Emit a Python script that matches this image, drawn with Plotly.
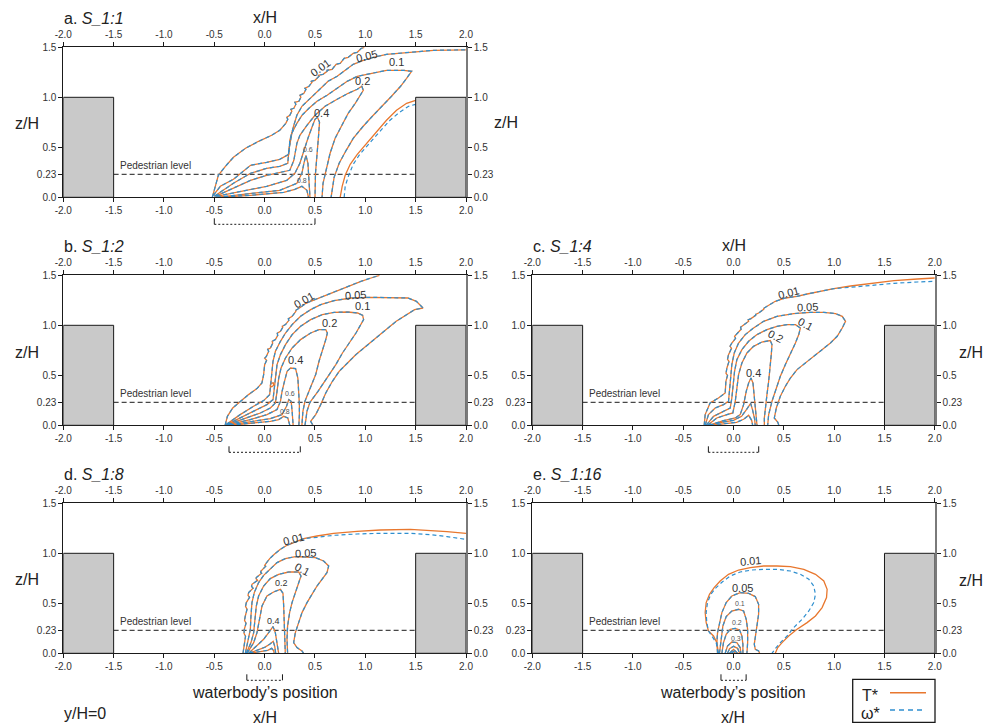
import plotly.graph_objects as go

# ---------------- data ----------------
X_TICKS = [-2.0, -1.5, -1.0, -0.5, 0.0, 0.5, 1.0, 1.5, 2.0]
X_TICK_TEXT = ["-2.0", "-1.5", "-1.0", "-0.5", "0.0", "0.5", "1.0", "1.5", "2.0"]
Z_TICKS = [0.0, 0.23, 0.5, 1.0, 1.5]
Z_TICK_TEXT = ["0.0", "0.23", "0.5", "1.0", "1.5"]
X_RANGE = [-2.0, 2.0]
Z_RANGE = [0.0, 1.5]

PANEL_LETTERS = ["a", "b", "c", "d", "e"]
PANEL_CASES = ["S_1:1", "S_1:2", "S_1:4", "S_1:8", "S_1:16"]
WATERBODY_HALF_WIDTH = [0.5, 0.354, 0.25, 0.177, 0.125]
PEDESTRIAN_LEVEL = 0.23
BUILDING_HEIGHT = 1.0
BUILDING_SPANS = [(-2.0, -1.5), (1.5, 2.0)]

# ---- panel a (S_1:1) contour lines, (x/H, z/H) ----
A_001 = [(-0.52, 0), (-0.50, 0.07), (-0.46, 0.22), (-0.39, 0.31), (-0.31, 0.40), (-0.19, 0.49), (-0.06, 0.56),
         (0.07, 0.62), (0.15, 0.67), (0.21, 0.74), (0.23, 0.78), (0.22, 0.80), (0.25, 0.82), (0.27, 0.86),
         (0.26, 0.88), (0.29, 0.89), (0.31, 0.93), (0.30, 0.95), (0.34, 0.96), (0.36, 1.00), (0.35, 1.02),
         (0.39, 1.04), (0.41, 1.08), (0.40, 1.09), (0.44, 1.11), (0.47, 1.15), (0.46, 1.16), (0.50, 1.17),
         (0.54, 1.21), (0.53, 1.22), (0.58, 1.23), (0.62, 1.26), (0.62, 1.27), (0.67, 1.28), (0.71, 1.32),
         (0.71, 1.33), (0.75, 1.34), (0.79, 1.38), (0.79, 1.39), (0.83, 1.40), (0.87, 1.43), (0.88, 1.44),
         (0.92, 1.45), (0.95, 1.48), (0.96, 1.49), (0.99, 1.50)]
A_005 = [(-0.51, 0.02), (-0.44, 0.11), (-0.31, 0.18), (-0.14, 0.32), (0.02, 0.35), (0.15, 0.38), (0.24, 0.43),
         (0.25, 0.57), (0.29, 0.72), (0.32, 0.82), (0.37, 0.91), (0.43, 0.97), (0.49, 1.03), (0.55, 1.09),
         (0.63, 1.16), (0.72, 1.21), (0.80, 1.27), (0.88, 1.33), (0.98, 1.37), (1.08, 1.40), (1.21, 1.43),
         (1.41, 1.45), (1.68, 1.47), (2.0, 1.475)]
A_01 = [(-0.50, 0.01), (-0.31, 0.14), (-0.14, 0.24), (0.02, 0.29), (0.15, 0.31), (0.23, 0.34), (0.24, 0.47),
        (0.27, 0.64), (0.32, 0.74), (0.37, 0.82), (0.44, 0.89), (0.52, 0.96), (0.62, 1.02), (0.72, 1.09),
        (0.82, 1.16), (0.92, 1.21), (1.05, 1.24), (1.21, 1.27), (1.38, 1.27), (1.46, 1.26), (1.41, 1.19),
        (1.35, 1.11), (1.26, 1.01), (1.16, 0.91), (1.06, 0.80), (0.97, 0.70), (0.88, 0.59), (0.81, 0.47),
        (0.74, 0.34), (0.69, 0.20), (0.66, 0.0)]
A_02 = [(-0.49, 0.01), (-0.31, 0.09), (-0.14, 0.17), (0.02, 0.22), (0.17, 0.25), (0.25, 0.27), (0.29, 0.37),
        (0.32, 0.54), (0.35, 0.62), (0.42, 0.72), (0.50, 0.82), (0.60, 0.91), (0.72, 0.98), (0.83, 1.04),
        (0.92, 1.08), (0.965, 1.11), (0.98, 1.07), (0.95, 1.02), (0.90, 0.94), (0.83, 0.84), (0.77, 0.72),
        (0.70, 0.59), (0.65, 0.44), (0.61, 0.27), (0.58, 0.14), (0.57, 0.0)]
A_04 = [(-0.48, 0.01), (-0.24, 0.06), (0.02, 0.11), (0.22, 0.17), (0.30, 0.24), (0.35, 0.34), (0.39, 0.47),
        (0.43, 0.59), (0.47, 0.70), (0.50, 0.78), (0.525, 0.80), (0.545, 0.75), (0.535, 0.61), (0.52, 0.44),
        (0.505, 0.24), (0.50, 0.0)]
A_06 = [(-0.475, 0.0), (-0.14, 0.04), (0.15, 0.07), (0.32, 0.14), (0.37, 0.24), (0.39, 0.34), (0.41, 0.42),
        (0.43, 0.34), (0.44, 0.21), (0.45, 0.0)]
A_08 = [(-0.47, 0.0), (-0.14, 0.02), (0.19, 0.05), (0.30, 0.08), (0.37, 0.11), (0.42, 0.07), (0.435, 0.0)]
A_EDGE_T = [(0.75, 0.0), (0.77, 0.11), (0.80, 0.22), (0.85, 0.33), (0.92, 0.43), (1.02, 0.55), (1.11, 0.66),
            (1.21, 0.77), (1.31, 0.87), (1.41, 0.94), (1.50, 0.97)]
A_EDGE_W = [(0.79, 0.0), (0.80, 0.11), (0.835, 0.22), (0.88, 0.33), (0.945, 0.43), (1.045, 0.55), (1.145, 0.66),
            (1.245, 0.77), (1.34, 0.85), (1.43, 0.91), (1.50, 0.93)]

# ---- panel b (S_1:2) ----
B_001 = [(-0.393, 0), (-0.37, 0.09), (-0.317, 0.173), (-0.243, 0.24), (-0.16, 0.307), (-0.077, 0.367),
         (-0.027, 0.423), (-0.01, 0.507), (0.0, 0.607), (0.02, 0.65), (0.0, 0.67), (0.017, 0.69),
         (0.04, 0.74), (0.03, 0.76), (0.057, 0.773), (0.08, 0.82), (0.075, 0.84), (0.107, 0.857),
         (0.13, 0.90), (0.125, 0.92), (0.157, 0.94), (0.18, 0.98), (0.175, 0.99), (0.207, 1.007),
         (0.24, 1.05), (0.235, 1.065), (0.273, 1.09), (0.31, 1.14), (0.31, 1.15), (0.357, 1.18),
         (0.40, 1.21), (0.41, 1.22), (0.457, 1.24), (0.557, 1.28), (0.657, 1.323), (0.757, 1.367),
         (0.857, 1.407), (0.957, 1.44), (1.057, 1.473), (1.14, 1.5)]
B_005 = [(-0.383, 0.007), (-0.243, 0.107), (-0.11, 0.19), (-0.01, 0.247), (0.05, 0.307), (0.063, 0.407),
         (0.073, 0.54), (0.083, 0.64), (0.107, 0.74), (0.157, 0.84), (0.207, 0.923), (0.273, 1.007),
         (0.357, 1.09), (0.457, 1.157), (0.557, 1.207), (0.69, 1.247), (0.857, 1.273), (1.057, 1.28),
         (1.257, 1.28), (1.423, 1.273), (1.507, 1.24), (1.573, 1.173), (1.49, 1.157), (1.407, 1.107),
         (1.307, 1.04), (1.207, 0.957), (1.107, 0.873), (1.007, 0.79), (0.907, 0.707), (0.823, 0.623),
         (0.74, 0.54), (0.673, 0.44), (0.607, 0.323), (0.557, 0.207), (0.507, 0.107), (0.457, 0.04),
         (0.47, 0.02), (0.48, 0.0)]
B_01 = [(-0.377, 0.007), (-0.21, 0.09), (-0.077, 0.157), (0.023, 0.207), (0.083, 0.257), (0.097, 0.373),
        (0.107, 0.507), (0.123, 0.607), (0.157, 0.707), (0.207, 0.807), (0.273, 0.907), (0.357, 0.99),
        (0.457, 1.057), (0.573, 1.107), (0.69, 1.13), (0.823, 1.133), (0.923, 1.123), (0.973, 1.10),
        (0.983, 1.057), (0.957, 1.007), (0.907, 0.923), (0.84, 0.823), (0.773, 0.723), (0.707, 0.607),
        (0.62, 0.47), (0.53, 0.34), (0.45, 0.23), (0.42, 0.14), (0.41, 0.06), (0.40, 0.0)]
B_02 = [(-0.37, 0.007), (-0.177, 0.073), (-0.043, 0.123), (0.057, 0.173), (0.107, 0.223), (0.123, 0.34),
        (0.14, 0.473), (0.163, 0.573), (0.207, 0.673), (0.273, 0.773), (0.357, 0.857), (0.457, 0.923),
        (0.54, 0.957), (0.607, 0.957), (0.623, 0.923), (0.607, 0.857), (0.573, 0.757), (0.54, 0.64),
        (0.507, 0.507), (0.45, 0.373), (0.40, 0.24), (0.38, 0.14), (0.375, 0.07), (0.37, 0.0)]
B_04 = [(-0.36, 0.007), (-0.143, 0.057), (0.023, 0.107), (0.123, 0.157), (0.157, 0.24), (0.173, 0.34),
        (0.197, 0.44), (0.223, 0.54), (0.257, 0.573), (0.307, 0.567), (0.33, 0.473), (0.34, 0.34),
        (0.345, 0.207), (0.345, 0.107), (0.34, 0.0)]
B_06 = [(-0.35, 0.003), (-0.11, 0.04), (0.057, 0.067), (0.173, 0.107), (0.217, 0.19), (0.24, 0.257),
        (0.263, 0.24), (0.273, 0.14), (0.283, 0.0)]
B_08 = [(-0.343, 0.0), (-0.11, 0.02), (0.057, 0.04), (0.14, 0.057), (0.19, 0.09), (0.23, 0.073), (0.25, 0.0)]
B_LOOP_T = [(0.055, 0.39), (0.06, 0.42), (0.085, 0.425), (0.09, 0.40), (0.07, 0.385), (0.055, 0.39)]

# ---- panel c (S_1:4) ----
C_001_T = [(-0.292, 0), (-0.282, 0.107), (-0.233, 0.223), (-0.15, 0.273), (-0.083, 0.323), (-0.076, 0.44),
           (-0.06, 0.50), (-0.075, 0.52), (-0.066, 0.573), (-0.045, 0.64), (-0.06, 0.66), (-0.05, 0.707),
           (-0.02, 0.77), (-0.035, 0.79), (-0.017, 0.823), (0.02, 0.87), (0.01, 0.89), (0.033, 0.913),
           (0.075, 0.96), (0.07, 0.98), (0.10, 1.0), (0.15, 1.04), (0.145, 1.055), (0.173, 1.067),
           (0.22, 1.10), (0.22, 1.11), (0.249, 1.123), (0.30, 1.16), (0.30, 1.17), (0.332, 1.19),
           (0.38, 1.22), (0.385, 1.23), (0.415, 1.24), (0.515, 1.273), (0.631, 1.29), (0.731, 1.313),
           (0.864, 1.34), (0.997, 1.367), (1.163, 1.393), (1.362, 1.42), (1.595, 1.447), (1.827, 1.463), (2.0, 1.473)]
C_001_W = C_001_T[:38] + [(1.163, 1.38), (1.362, 1.40), (1.595, 1.42), (1.827, 1.433), (2.0, 1.44)]
C_005 = [(-0.282, 0), (-0.249, 0.107), (-0.183, 0.173), (-0.10, 0.207), (-0.05, 0.24), (-0.04, 0.34),
         (-0.033, 0.473), (-0.017, 0.607), (0.007, 0.723), (0.05, 0.823), (0.116, 0.907), (0.199, 0.973),
         (0.299, 1.04), (0.432, 1.09), (0.598, 1.117), (0.764, 1.13), (0.897, 1.13), (1.013, 1.117),
         (1.08, 1.09), (1.113, 1.04), (1.08, 0.973), (1.03, 0.89), (0.963, 0.823), (0.88, 0.757),
         (0.797, 0.69), (0.714, 0.623), (0.631, 0.557), (0.565, 0.473), (0.515, 0.39), (0.465, 0.29),
         (0.425, 0.173), (0.405, 0.073), (0.44, 0.03), (0.45, 0.0)]
C_01 = [(-0.272, 0), (-0.199, 0.09), (-0.10, 0.14), (-0.033, 0.173), (-0.017, 0.273), (-0.007, 0.407),
        (0.01, 0.54), (0.033, 0.657), (0.083, 0.757), (0.15, 0.84), (0.233, 0.907), (0.332, 0.957),
        (0.432, 0.99), (0.532, 1.007), (0.615, 1.007), (0.664, 0.973), (0.648, 0.907), (0.615, 0.823),
        (0.565, 0.723), (0.515, 0.607), (0.465, 0.49), (0.425, 0.373), (0.382, 0.24), (0.349, 0.107), (0.339, 0)]
C_02 = [(-0.259, 0), (-0.166, 0.073), (-0.066, 0.107), (-0.007, 0.123), (0.017, 0.24), (0.033, 0.373),
        (0.05, 0.507), (0.083, 0.623), (0.133, 0.723), (0.199, 0.79), (0.282, 0.833), (0.365, 0.847),
        (0.382, 0.807), (0.375, 0.707), (0.365, 0.573), (0.349, 0.44), (0.332, 0.307), (0.316, 0.173),
        (0.306, 0.073), (0.306, 0)]
C_04 = [(-0.249, 0), (-0.10, 0.047), (0.017, 0.073), (0.066, 0.107), (0.10, 0.207), (0.126, 0.34),
        (0.15, 0.423), (0.173, 0.473), (0.193, 0.423), (0.206, 0.307), (0.219, 0.173), (0.233, 0)]
C_06 = [(-0.24, 0.0), (-0.12, 0.03), (0.0, 0.05), (0.08, 0.09), (0.13, 0.16), (0.17, 0.22), (0.19, 0.15),
        (0.21, 0.06), (0.215, 0.0)]
C_08 = [(-0.23, 0.0), (-0.1, 0.015), (0.03, 0.03), (0.1, 0.06), (0.15, 0.1), (0.18, 0.05), (0.19, 0.0)]

# ---- panel d (S_1:8) ----
D_001_T = [(-0.215, 0), (-0.202, 0.107), (-0.19, 0.17), (-0.205, 0.20), (-0.202, 0.24), (-0.185, 0.30),
           (-0.20, 0.33), (-0.192, 0.373), (-0.175, 0.44), (-0.19, 0.47), (-0.182, 0.507), (-0.15, 0.56),
           (-0.165, 0.58), (-0.159, 0.607), (-0.115, 0.65), (-0.13, 0.67), (-0.126, 0.69), (-0.07, 0.73),
           (-0.085, 0.745), (-0.083, 0.757), (-0.03, 0.80), (-0.04, 0.81), (-0.036, 0.823), (0.01, 0.87),
           (0.0, 0.88), (0.007, 0.89), (0.05, 0.947), (0.096, 0.99), (0.156, 1.04), (0.222, 1.08),
           (0.305, 1.113), (0.387, 1.147), (0.52, 1.173), (0.685, 1.20), (0.917, 1.22), (1.149, 1.233),
           (1.447, 1.24), (1.646, 1.23), (1.811, 1.217), (2.0, 1.20)]
D_001_W = D_001_T[:32] + [(0.52, 1.16), (0.685, 1.18), (0.917, 1.193), (1.149, 1.20), (1.447, 1.20),
                          (1.646, 1.187), (1.811, 1.167), (2.0, 1.14)]
D_005 = [(-0.192, 0), (-0.159, 0.14), (-0.142, 0.24), (-0.136, 0.373), (-0.126, 0.507), (-0.103, 0.607),
         (-0.06, 0.707), (-0.01, 0.78), (0.056, 0.847), (0.123, 0.907), (0.205, 0.947), (0.305, 0.967),
         (0.404, 0.963), (0.503, 0.957), (0.586, 0.923), (0.636, 0.873), (0.619, 0.807), (0.57, 0.74),
         (0.52, 0.673), (0.47, 0.59), (0.421, 0.507), (0.371, 0.407), (0.338, 0.307), (0.305, 0.207),
         (0.288, 0.107), (0.321, 0.057), (0.371, 0.023), (0.387, 0)]
D_01 = [(-0.182, 0), (-0.136, 0.107), (-0.109, 0.207), (-0.093, 0.34), (-0.083, 0.473), (-0.06, 0.573),
        (-0.01, 0.673), (0.056, 0.747), (0.139, 0.79), (0.238, 0.813), (0.338, 0.813), (0.361, 0.773),
        (0.338, 0.707), (0.305, 0.607), (0.272, 0.507), (0.248, 0.407), (0.228, 0.273), (0.222, 0.14), (0.228, 0)]
D_02 = [(-0.175, 0), (-0.109, 0.107), (-0.076, 0.207), (-0.05, 0.34), (-0.026, 0.473), (0.023, 0.573),
        (0.089, 0.613), (0.156, 0.64), (0.182, 0.60), (0.189, 0.473), (0.195, 0.34), (0.199, 0.207), (0.205, 0)]
D_04 = [(-0.159, 0), (-0.076, 0.073), (-0.01, 0.14), (0.04, 0.207), (0.083, 0.267), (0.106, 0.207),
        (0.123, 0.107), (0.139, 0)]
D_06 = [(-0.155, 0.0), (-0.08, 0.03), (0.0, 0.06), (0.05, 0.09), (0.085, 0.12), (0.10, 0.07), (0.11, 0.0)]
D_08 = [(-0.15, 0.0), (-0.05, 0.015), (0.03, 0.03), (0.07, 0.05), (0.09, 0.025), (0.095, 0.0)]

# ---- panel e (S_1:16) ----
E_001_T = [(-0.15, 0), (-0.166, 0.107), (-0.199, 0.173), (-0.249, 0.223), (-0.272, 0.307), (-0.282, 0.407),
           (-0.272, 0.507), (-0.239, 0.59), (-0.193, 0.657), (-0.133, 0.723), (-0.05, 0.79), (0.05, 0.833),
           (0.166, 0.857), (0.299, 0.873), (0.432, 0.873), (0.565, 0.867), (0.698, 0.84), (0.814, 0.79),
           (0.897, 0.723), (0.93, 0.64), (0.924, 0.557), (0.88, 0.457), (0.814, 0.373), (0.731, 0.307),
           (0.631, 0.24), (0.548, 0.173), (0.482, 0.107), (0.439, 0.057), (0.415, 0)]
E_001_W = [(-0.15, 0), (-0.173, 0.107), (-0.216, 0.173), (-0.249, 0.223), (-0.266, 0.307), (-0.272, 0.407),
           (-0.259, 0.507), (-0.226, 0.59), (-0.173, 0.657), (-0.113, 0.713), (-0.033, 0.773), (0.066, 0.813),
           (0.183, 0.833), (0.299, 0.84), (0.432, 0.84), (0.565, 0.823), (0.664, 0.79), (0.748, 0.74),
           (0.797, 0.673), (0.814, 0.59), (0.797, 0.507), (0.748, 0.423), (0.681, 0.34), (0.598, 0.257),
           (0.532, 0.173), (0.465, 0.107), (0.415, 0.047), (0.382, 0)]
E_005 = [(-0.159, 0), (-0.166, 0.107), (-0.159, 0.207), (-0.14, 0.307), (-0.116, 0.407), (-0.073, 0.507),
         (-0.017, 0.573), (0.066, 0.607), (0.15, 0.60), (0.216, 0.567), (0.249, 0.49), (0.249, 0.39),
         (0.233, 0.29), (0.216, 0.19), (0.206, 0.09), (0.216, 0.04), (0.249, 0.023), (0.259, 0)]
E_01 = [(-0.14, 0), (-0.126, 0.14), (-0.106, 0.273), (-0.073, 0.367), (-0.017, 0.423), (0.05, 0.44),
        (0.10, 0.423), (0.126, 0.34), (0.14, 0.24), (0.14, 0.107), (0.133, 0)]
E_02 = [(-0.116, 0), (-0.10, 0.107), (-0.073, 0.19), (-0.033, 0.24), (0.017, 0.25), (0.06, 0.233),
        (0.083, 0.173), (0.093, 0.09), (0.093, 0)]
E_03 = [(-0.083, 0), (-0.06, 0.073), (-0.017, 0.113), (0.033, 0.107), (0.066, 0.057), (0.073, 0)]
E_04 = [(-0.06, 0), (-0.04, 0.045), (0.0, 0.07), (0.04, 0.05), (0.06, 0)]
E_05 = [(-0.04, 0), (0.0, 0.04), (0.04, 0)]
E_06 = [(-0.02, 0), (0.0, 0.02), (0.02, 0)]

# contour-level labels per panel: text, x/H, z/H
A_LABEL_TEXT = ["0.01", "0.05", "0.1", "0.2", "0.4", "0.6", "0.8"]
A_LABEL_X = [0.55, 1.015, 1.313, 0.972, 0.568, 0.435, 0.369]
A_LABEL_Z = [1.29, 1.413, 1.357, 1.167, 0.847, 0.48, 0.167]
B_LABEL_TEXT = ["0.01", "0.05", "0.1", "0.2", "0.4", "0.6", "0.8"]
B_LABEL_X = [0.39, 0.907, 0.973, 0.64, 0.307, 0.247, 0.207]
B_LABEL_Z = [1.257, 1.307, 1.19, 1.023, 0.657, 0.323, 0.14]
C_LABEL_TEXT = ["0.01", "0.05", "0.1", "0.2", "0.4"]
C_LABEL_X = [0.542, 0.731, 0.714, 0.415, 0.2]
C_LABEL_Z = [1.323, 1.18, 1.013, 0.89, 0.523]
D_LABEL_TEXT = ["0.01", "0.05", "0.1", "0.2", "0.4"]
D_LABEL_X = [0.288, 0.404, 0.371, 0.172, 0.083]
D_LABEL_Z = [1.14, 1.007, 0.847, 0.70, 0.323]
E_LABEL_TEXT = ["0.01", "0.05", "0.1", "0.2", "0.3"]
E_LABEL_X = [0.166, 0.093, 0.066, 0.033, 0.027]
E_LABEL_Z = [0.923, 0.657, 0.50, 0.307, 0.147]

# ---------------- styling / layout ----------------
FONT = "Liberation Sans, Arial, Helvetica, sans-serif"
ORANGE = "#e8772e"
BLUE = "#2f8fcf"
TXT = "#222222"

# the page body adds an 8px margin; the figure is sized so it fits the 993x728 window
PAGE_OFF = 8
FW, FH = 993 - PAGE_OFF, 728 - PAGE_OFF


def fx(px):
    return (px - PAGE_OFF) / FW


def fy(py):
    return 1 - (py - PAGE_OFF) / FH


LEFT_DOM = [fx(63.3), fx(466.0)]
RIGHT_DOM = [fx(532.3), fx(934.8)]
ROW_TOP_PX = [47.3, 275.3, 503.3]
ROW_BOT_PX = [197.3, 425.3, 653.3]
ROW_DOM = [[fy(b), fy(t)] for t, b in zip(ROW_TOP_PX, ROW_BOT_PX)]
PANEL_POS = [(LEFT_DOM, 0), (LEFT_DOM, 1), (RIGHT_DOM, 1), (LEFT_DOM, 2), (RIGHT_DOM, 2)]
PANEL_LEFT_PX = [62, 62, 531, 62, 531]

LABEL_STYLE = {  # (angle, size) per label
    "a": [(-36, 11), (-14, 11), (0, 11), (0, 11), (0, 11), (0, 7), (0, 7)],
    "b": [(-30, 11), (-4, 11), (0, 11), (0, 11), (0, 11), (0, 7), (0, 7)],
    "c": [(-14, 11), (-3, 11), (28, 11), (28, 11), (0, 11)],
    "d": [(-14, 11), (-3, 11), (28, 11), (0, 9), (0, 9)],
    "e": [(-5, 11), (0, 11), (0, 7), (0, 7), (0, 7)],
}

panels = [
    dict(T=[A_001, A_005, A_01, A_02, A_04, A_06, A_08, A_EDGE_T],
         W=[A_001, A_005, A_01, A_02, A_04, A_06, A_08, A_EDGE_W],
         labels=(A_LABEL_TEXT, A_LABEL_X, A_LABEL_Z)),
    dict(T=[B_001, B_005, B_01, B_02, B_04, B_06, B_08, B_LOOP_T],
         W=[B_001, B_005, B_01, B_02, B_04, B_06, B_08],
         labels=(B_LABEL_TEXT, B_LABEL_X, B_LABEL_Z)),
    dict(T=[C_001_T, C_005, C_01, C_02, C_04, C_06, C_08],
         W=[C_001_W, C_005, C_01, C_02, C_04, C_06, C_08],
         labels=(C_LABEL_TEXT, C_LABEL_X, C_LABEL_Z)),
    dict(T=[D_001_T, D_005, D_01, D_02, D_04, D_06, D_08],
         W=[D_001_W, D_005, D_01, D_02, D_04, D_06, D_08],
         labels=(D_LABEL_TEXT, D_LABEL_X, D_LABEL_Z)),
    dict(T=[E_001_T, E_005, E_01, E_02, E_03, E_04, E_05, E_06],
         W=[E_001_W, E_005, E_01, E_02, E_03, E_04, E_05, E_06],
         labels=(E_LABEL_TEXT, E_LABEL_X, E_LABEL_Z)),
]

fig = go.Figure()
shapes = []
annotations = []
layout_axes = {}

tickfont = dict(family=FONT, size=10, color="#333333")
ax_common = dict(showgrid=False, zeroline=False, showline=True, linecolor="#1a1a1a", linewidth=1,
                 ticks="outside", ticklen=4, tickwidth=1, tickcolor="#1a1a1a", tickfont=tickfont,
                 fixedrange=True, automargin=False)

for i, p in enumerate(panels):
    n = i + 1
    xr = "x" if n == 1 else f"x{n}"
    yr = "y" if n == 1 else f"y{n}"
    xr2, yr2 = f"x{n + 5}", f"y{n + 5}"
    xdom, row = PANEL_POS[i]
    ydom = ROW_DOM[row]

    # axes
    layout_axes["xaxis" if n == 1 else f"xaxis{n}"] = dict(
        ax_common, domain=xdom, anchor=yr, range=X_RANGE, tickvals=X_TICKS, ticktext=X_TICK_TEXT, side="bottom")
    layout_axes["yaxis" if n == 1 else f"yaxis{n}"] = dict(
        ax_common, domain=ydom, anchor=xr, range=Z_RANGE, tickvals=Z_TICKS, ticktext=Z_TICK_TEXT, side="left")
    layout_axes[f"xaxis{n + 5}"] = dict(
        ax_common, domain=xdom, anchor=yr2, overlaying=xr, range=X_RANGE, tickvals=X_TICKS,
        ticktext=X_TICK_TEXT, side="top")
    layout_axes[f"yaxis{n + 5}"] = dict(
        ax_common, domain=ydom, anchor=xr2, overlaying=yr, range=Z_RANGE, tickvals=Z_TICKS,
        ticktext=Z_TICK_TEXT, side="right", linecolor="#7a7a7a", linewidth=1.6)

    # buildings
    for (b0, b1) in BUILDING_SPANS:
        shapes.append(dict(type="rect", xref=xr, yref=yr, x0=b0, x1=b1, y0=0, y1=BUILDING_HEIGHT,
                           fillcolor="#c9c9c9", line=dict(color="#1a1a1a", width=1), layer="above"))

    # pedestrian level
    fig.add_trace(go.Scatter(x=[BUILDING_SPANS[0][1], BUILDING_SPANS[1][0]],
                             y=[PEDESTRIAN_LEVEL, PEDESTRIAN_LEVEL], mode="lines",
                             line=dict(color="#1a1a1a", width=1, dash="5px,3px"),
                             xaxis=xr, yaxis=yr, showlegend=False, hoverinfo="skip"))
    annotations.append(dict(text="Pedestrian level", x=BUILDING_SPANS[0][1] + 0.04, y=PEDESTRIAN_LEVEL,
                            xref=xr, yref=yr, xanchor="left", yanchor="bottom", yshift=1, showarrow=False,
                            font=dict(family=FONT, size=10, color="#333333")))

    # contours: T* solid orange, omega* dashed blue
    for pts in p["T"]:
        fig.add_trace(go.Scatter(x=[q[0] for q in pts], y=[q[1] for q in pts], mode="lines",
                                 line=dict(color=ORANGE, width=1.3), xaxis=xr, yaxis=yr,
                                 showlegend=False, hoverinfo="skip"))
    for pts in p["W"]:
        fig.add_trace(go.Scatter(x=[q[0] for q in pts], y=[q[1] for q in pts], mode="lines",
                                 line=dict(color=BLUE, width=1.2, dash="4px,3px"), xaxis=xr, yaxis=yr,
                                 showlegend=False, hoverinfo="skip"))

    # contour labels
    ltxt, lx, lz = p["labels"]
    for k, (t, xx, zz) in enumerate(zip(ltxt, lx, lz)):
        ang, sz = LABEL_STYLE[PANEL_LETTERS[i]][k]
        annotations.append(dict(text=t, x=xx, y=zz, xref=xr, yref=yr, showarrow=False, textangle=ang,
                                font=dict(family=FONT, size=sz, color="#333333" if sz > 8 else "#555555")))

    # dummy trace to activate top/right axes
    fig.add_trace(go.Scatter(x=[None], y=[None], xaxis=xr2, yaxis=yr2, showlegend=False, hoverinfo="skip"))

    # waterbody bracket (dotted)
    hw = WATERBODY_HALF_WIDTH[i]
    yb = fy(ROW_BOT_PX[row] + 27)
    yt = fy(ROW_BOT_PX[row] + 21)
    shapes.append(dict(type="line", xref=xr, yref="paper", x0=-hw, x1=hw, y0=yb, y1=yb,
                       line=dict(color="#1a1a1a", width=1, dash="2px,2px")))
    for s in (-hw, hw):
        shapes.append(dict(type="line", xref=xr, yref="paper", x0=s, x1=s, y0=yb, y1=yt,
                           line=dict(color="#1a1a1a", width=1)))

    # panel title
    annotations.append(dict(text=f"{PANEL_LETTERS[i]}. <i>{PANEL_CASES[i]}</i>", xref="paper", yref="paper",
                            x=fx(PANEL_LEFT_PX[i]), y=fy(ROW_TOP_PX[row] - 29), xanchor="left",
                            yanchor="middle", showarrow=False, font=dict(family=FONT, size=16, color=TXT)))


def paper_text(text, px, py, size=16, xanchor="center"):
    annotations.append(dict(text=text, xref="paper", yref="paper", x=fx(px), y=fy(py),
                            xanchor=xanchor, yanchor="middle", showarrow=False,
                            font=dict(family=FONT, size=size, color=TXT)))


# axis titles and other texts
paper_text("x/H", 265, 18)
paper_text("x/H", 734, 246)
paper_text("z/H", 27, 124)
paper_text("z/H", 27, 352)
paper_text("z/H", 27, 579)
paper_text("z/H", 506, 122)
paper_text("z/H", 971, 352)
paper_text("z/H", 971, 580)
paper_text("waterbody\u2019s position", 265, 692)
paper_text("waterbody\u2019s position", 733, 692)
paper_text("x/H", 265, 717)
paper_text("x/H", 733, 717)
paper_text("y/H=0", 85, 713)

# legend box
shapes.append(dict(type="rect", xref="paper", yref="paper", x0=fx(852.7), x1=fx(935),
                   y0=fy(722.3), y1=fy(679.3), line=dict(color="#1a1a1a", width=1.3),
                   fillcolor="white"))
shapes.append(dict(type="line", xref="paper", yref="paper", x0=fx(890), x1=fx(926),
                   y0=fy(692.7), y1=fy(692.7), line=dict(color=ORANGE, width=1.5)))
shapes.append(dict(type="line", xref="paper", yref="paper", x0=fx(890), x1=fx(926),
                   y0=fy(710), y1=fy(710), line=dict(color=BLUE, width=1.5, dash="5px,4px")))
paper_text("T*", 870, 695)
paper_text("\u03c9*", 870, 713)

fig.update_layout(
    width=FW, height=FH, autosize=False,
    margin=dict(l=0, r=0, t=0, b=0, pad=0, autoexpand=False),
    paper_bgcolor="white", plot_bgcolor="white",
    showlegend=False,
    shapes=shapes, annotations=annotations,
    **layout_axes,
)

fig.write_html("out.html")
